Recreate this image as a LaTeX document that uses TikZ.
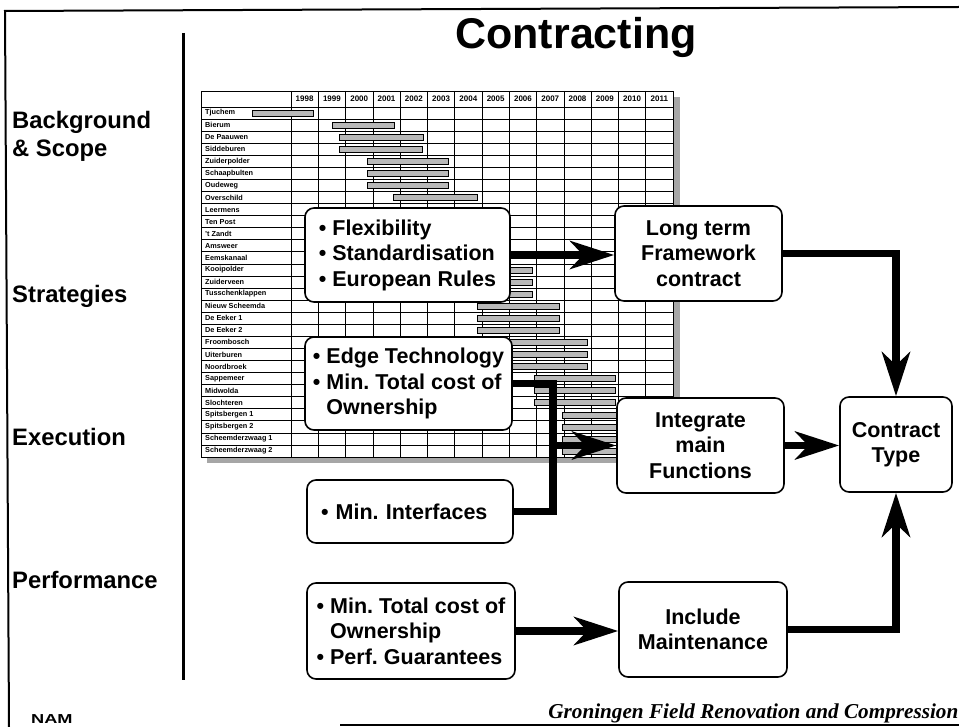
\documentclass[tikz,border=0pt]{standalone}
\usepackage{fontspec}
\setmainfont{Liberation Sans}
\newfontfamily\footfont{Liberation Serif}
\usetikzlibrary{arrows.meta}
\frenchspacing

\tikzset{
  frameline/.style={line width=2pt},
  sidelabel/.style={anchor=west, inner sep=0pt, font=\bfseries\fontsize{23.8}{28}\selectfont, align=left},
  roundbox/.style={draw, line width=1.6pt, rounded corners=9pt, fill=white, inner sep=0pt,
    font=\bfseries\fontsize{21.5}{25.5}\selectfont},
  grid/.style={line width=0.7pt},
  yearlabel/.style={inner sep=0pt, font=\bfseries\fontsize{8}{9}\selectfont},
  sitelabel/.style={anchor=west, inner sep=0pt, font=\bfseries\fontsize{7.3}{8}\selectfont},
  bar/.style={draw, line width=0.5pt, fill=gray!55},
  flow/.style={line width=7.5pt, line join=miter, -{Stealth[length=44pt, width=28pt, inset=13pt]}},
  flowplain/.style={line width=7.5pt, line join=miter},
}

\begin{document}
\begin{tikzpicture}[x=1pt, y=-1pt]
\useasboundingbox (0,0) rectangle (959,727);

% page frame
\draw[frameline] (959,7) -- (5,11) -- (9,727);
\draw[frameline] (340,725) -- (959,725);

% title and divider
\node[font=\bfseries\fontsize{43}{50}\selectfont, inner sep=0pt] (title) at (576,37) {Contracting};
\draw[line width=3pt] (183,33) -- (183,680);

% section labels
\node[sidelabel] (bg) at (12,136) {Background\\\& Scope};
\node[sidelabel] (strat) at (12,296) {Strategies};
\node[sidelabel] (exec) at (12,437) {Execution};
\node[sidelabel] (perf) at (12,580) {Performance};

% ---- planning table ----
\def\rowh{12.07}
\def\colw{27.29}
\fill[gray!70] (207,97) rectangle (680,463);
\fill[white] (201,91) rectangle (673,457);
\draw[grid] (201,91) rectangle (673,457);
\foreach \k in {0,...,29} \draw[grid] (201,{107+\rowh*\k}) -- (673,{107+\rowh*\k});
\draw[grid] (291,91) -- (291,457);
\foreach \j in {1,...,13} \draw[grid] ({291+\colw*\j},91) -- ({291+\colw*\j},457);
\foreach \yr [count=\j from 0] in {1998,...,2011}
  \node[yearlabel] (yr\j) at ({291+\colw*(\j+0.5)},99) {\yr};
\foreach \site [count=\i from 0] in {Tjuchem, Bierum, De Paauwen, Siddeburen, Zuiderpolder,
    Schaapbulten, Oudeweg, Overschild, Leermens, Ten Post, 't Zandt, Amsweer, Eemskanaal,
    Kooipolder, Zuiderveen, Tusschenklappen, Nieuw Scheemda, De Eeker 1, De Eeker 2,
    Froombosch, Uiterburen, Noordbroek, Sappemeer, Midwolda, Slochteren, Spitsbergen 1,
    Spitsbergen 2, Scheemderzwaag 1, Scheemderzwaag 2}
  \node[sitelabel] (site\i) at (205,{107+\rowh*(\i+0.5)}) {\site};
\foreach \r/\a/\b in {0/252/313, 1/332/394, 2/339/423, 3/339/422, 4/367/448, 5/367/448,
    6/367/448, 7/393/477, 13/450/532, 14/450/532, 15/450/532, 16/477/559, 17/477/559,
    18/477/559, 19/505/587, 20/505/587, 21/505/587, 22/534/615, 23/534/615, 24/534/615,
    25/562/643, 26/562/643, 27/562/643, 28/562/643}
  \draw[bar] (\a,{107+\rowh*(\r+0.5)-3}) rectangle (\b,{107+\rowh*(\r+0.5)+3});

% ---- boxes ----
\node[roundbox, minimum width=205pt, minimum height=94pt, align=left] (flex) at (407.5,255)
  {\textbullet\ Flexibility\\\textbullet\ Standardisation\\\textbullet\ European Rules};
\node[roundbox, minimum width=207pt, minimum height=93pt, align=left] (edge) at (408.5,383.5)
  {\textbullet\ Edge Technology\\\textbullet\ Min. Total cost of\\\phantom{\textbullet\ }Ownership};
\node[roundbox, minimum width=206pt, minimum height=63pt, text width=178pt, align=left] (intf) at (410,511.5)
  {\textbullet\ Min. Interfaces};
\node[roundbox, minimum width=208pt, minimum height=96pt, align=left] (own) at (411,631)
  {\textbullet\ Min. Total cost of\\\phantom{\textbullet\ }Ownership\\\textbullet\ Perf. Guarantees};
\node[roundbox, minimum width=167pt, minimum height=95pt, align=center] (frame) at (698.5,253.5)
  {Long term\\Framework\\contract};
\node[roundbox, minimum width=167pt, minimum height=95pt, align=center] (integ) at (700.5,445.5)
  {Integrate\\main\\Functions};
\node[roundbox, minimum width=168pt, minimum height=95pt, align=center] (maint) at (703,629.5)
  {Include\\Maintenance};
\node[roundbox, minimum width=112pt, minimum height=95pt, align=center] (ctype) at (896,444.5)
  {Contract\\Type};

% ---- connectors ----
\coordinate (join) at (553,445.5);
\draw[flow] (flex.east) -- (flex.east -| frame.west);
\draw[flow] (frame.east) -| (ctype.north);
\draw[flowplain] (intf.east) -| (join);
\draw[flow] (edge.east) -| (join) -- (integ.west);
\draw[flow] (integ.east) -- (integ.east -| ctype.west);
\draw[flow] (own.east) -- (own.east -| maint.west);
\draw[flow] (maint.east) -| (ctype.south);

% ---- footer ----
\node[anchor=base west, inner sep=0pt, font=\bfseries\fontsize{13}{15}\selectfont] (nam) at (31,723)
  {\scalebox{1.4}[1]{NAM}};
\node[anchor=base east, inner sep=0pt, font=\footfont\bfseries\itshape\fontsize{21.2}{25}\selectfont]
  (footer) at (958.5,718) {Groningen Field Renovation and Compression};
\end{tikzpicture}
\end{document}
